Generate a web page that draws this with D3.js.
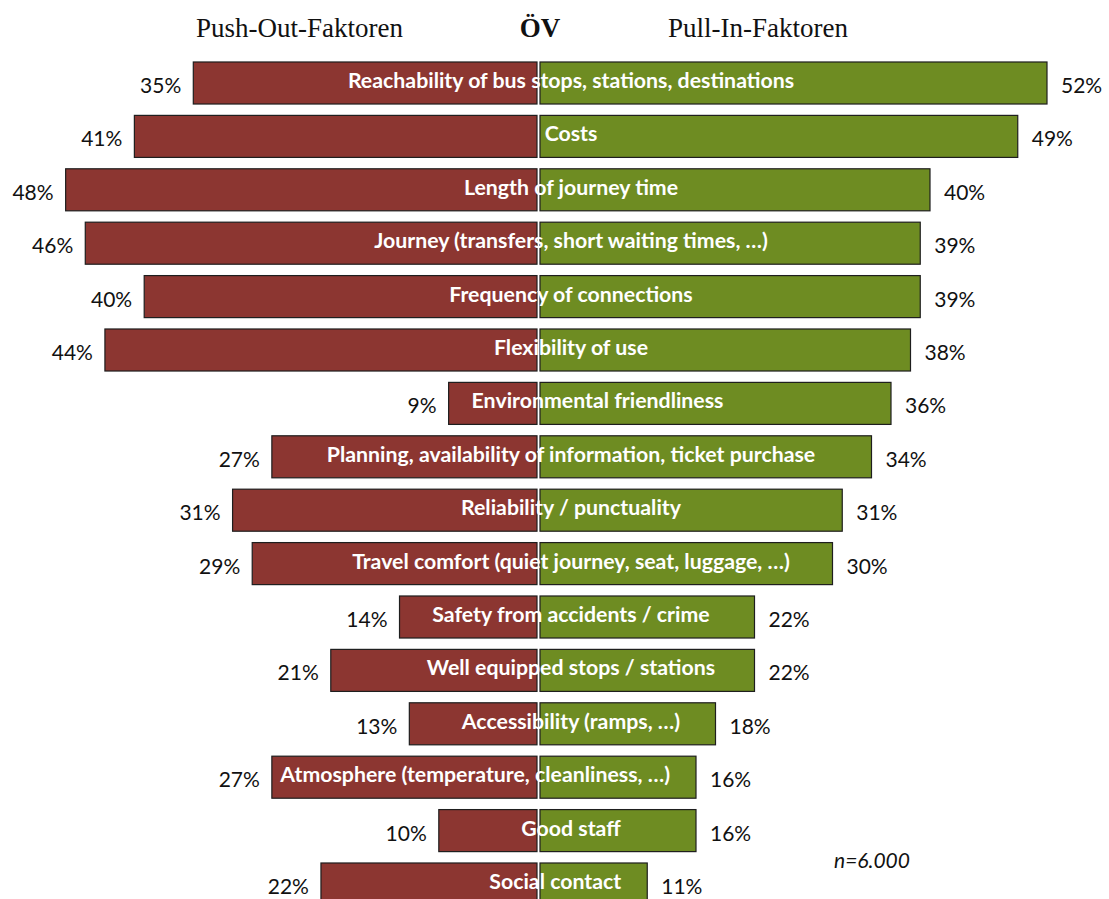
<!DOCTYPE html>
<html>
<head>
    <script src="https://d3js.org/d3.v7.min.js"></script>
    <style>
        body {margin: 0; background: #fff;}
        svg {display: block;}
        .bar {stroke: #1e1e1e; stroke-width: 1.2px;}
        .pct {font-family: Lato, "Open Sans", sans-serif; font-size: 21px; fill: #111;}
        .lbl {font-family: Lato, "Open Sans", sans-serif; font-size: 21.3px; font-weight: bold; fill: #fff;}
        .head {font-family: "Liberation Serif", "DejaVu Serif", serif; font-size: 27px; fill: #111;}
    </style>
</head>
<body>
    <svg width="1109" height="899"></svg>
    <script>
        // factors (same order as in the survey chart)
        const factors = [
            "Reachability of bus stops, stations, destinations",
            "Costs",
            "Length of journey time",
            "Journey (transfers, short waiting times, …)",
            "Frequency of connections",
            "Flexibility of use",
            "Environmental friendliness",
            "Planning, availability  of information, ticket purchase",
            "Reliability / punctuality",
            "Travel comfort (quiet journey, seat, luggage, …)",
            "Safety from accidents / crime",
            "Well equipped stops / stations",
            "Accessibility (ramps, …)",
            "Atmosphere (temperature, cleanliness, …)",
            "Good staff",
            "Social contact"
        ];
        const pushOut = [35, 41, 48, 46, 40, 44, 9, 27, 31, 29, 14, 21, 13, 27, 10, 22];
        const pullIn  = [52, 49, 40, 39, 39, 38, 36, 34, 31, 30, 22, 22, 18, 16, 16, 11];
        const headers = ["Push-Out-Faktoren", "ÖV", "Pull-In-Faktoren"];
        const note = "n=6.000";

        const rows = factors.map((f, i) => ({name: f, push: pushOut[i], pull: pullIn[i]}));

        const svg = d3.select("svg");

        const y = d3.scaleBand()
            .domain(factors)
            .range([56.3, 56.3 + 16 * 53.4])
            .paddingInner(0.213)
            .paddingOuter(0.1065);

        const midL = 537, midR = 540;
        const xL = d3.scaleLinear().domain([0, 100]).range([midL, midL - 982]);
        const xR = d3.scaleLinear().domain([0, 100]).range([midR, midR + 975]);

        // headers
        svg.append("text").attr("class", "head").attr("x", 196).attr("y", 37).text(headers[0]);
        svg.append("text").attr("class", "head").attr("x", 540).attr("y", 37)
            .attr("text-anchor", "middle").style("font-weight", "bold").text(headers[1]);
        svg.append("text").attr("class", "head").attr("x", 668).attr("y", 37).text(headers[2]);

        // push-out bars (left)
        svg.selectAll(".barL")
            .data(rows)
            .enter().append("rect")
            .attr("class", "bar")
            .attr("x", d => xL(d.push))
            .attr("y", d => y(d.name))
            .attr("width", d => xL(0) - xL(d.push))
            .attr("height", y.bandwidth())
            .attr("fill", "#8c3631");

        // pull-in bars (right)
        svg.selectAll(".barR")
            .data(rows)
            .enter().append("rect")
            .attr("class", "bar")
            .attr("x", xR(0))
            .attr("y", d => y(d.name))
            .attr("width", d => xR(d.pull) - xR(0))
            .attr("height", y.bandwidth())
            .attr("fill", "#6e8c22");

        // percentages
        svg.selectAll(".pctL")
            .data(rows)
            .enter().append("text")
            .attr("class", "pct")
            .attr("x", d => xL(d.push) - 12)
            .attr("y", d => y(d.name) + y.bandwidth() / 2 + 10)
            .attr("text-anchor", "end")
            .text(d => d.push + "%");

        svg.selectAll(".pctR")
            .data(rows)
            .enter().append("text")
            .attr("class", "pct")
            .attr("x", d => xR(d.pull) + 14)
            .attr("y", d => y(d.name) + y.bandwidth() / 2 + 10)
            .text(d => d.pull + "%");

        // factor labels across the middle; nudged so they stay inside the bars
        svg.selectAll(".lbl")
            .data(rows)
            .enter().append("text")
            .attr("class", "lbl")
            .attr("y", d => y(d.name) + y.bandwidth() / 2 + 5)
            .attr("text-anchor", "middle")
            .text(d => d.name)
            .attr("x", function(d) {
                const w = this.getComputedTextLength();
                let cx = 571;
                const right = xR(d.pull) - 26, left = xL(d.push) + 23;
                if (cx - w / 2 < left) cx = left + w / 2;
                if (cx + w / 2 > right) cx = right - w / 2;
                return cx;
            });

        svg.append("text")
            .attr("x", 834).attr("y", 868)
            .style("font-family", "Lato, sans-serif")
            .style("font-size", "21px")
            .style("font-style", "italic")
            .style("fill", "#111")
            .text(note);
    </script>
</body>
</html>
